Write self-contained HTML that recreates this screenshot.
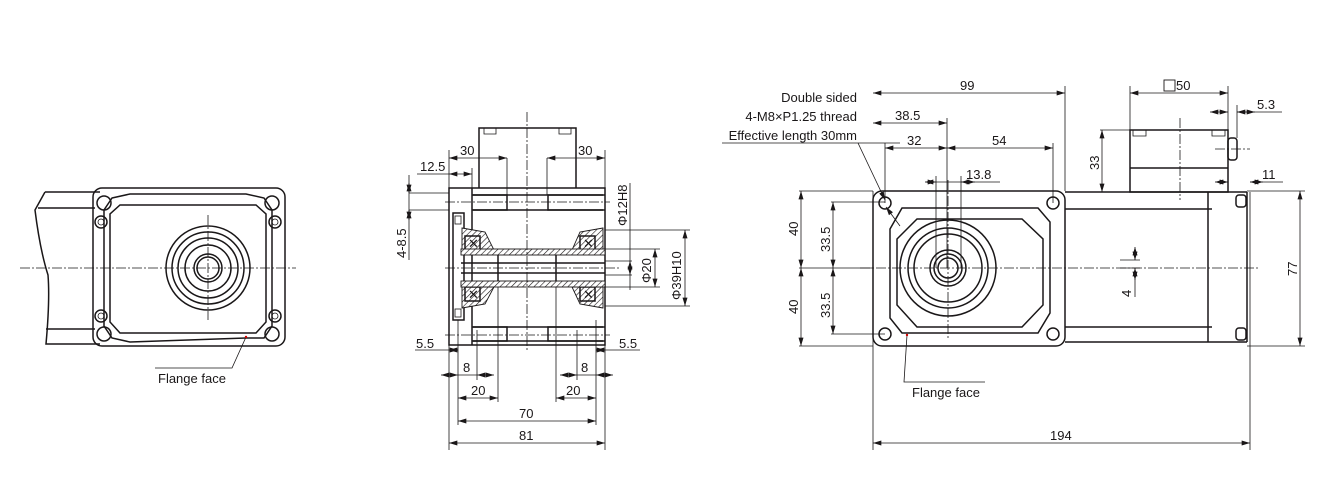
<!DOCTYPE html>
<html><head><meta charset="utf-8"><style>
body{margin:0;background:#fff}
svg{display:block}
text{font-family:"Liberation Sans Narrow","Liberation Sans",sans-serif;font-size:13px;fill:#1a1718}
.l{stroke:#1a1718;stroke-width:1.5;fill:none}
.t{stroke:#1a1718;stroke-width:0.8;fill:none}
.c{stroke:#1a1718;stroke-width:0.8;fill:none;stroke-dasharray:10 2 2 2}
.d{stroke:#1a1718;stroke-width:0.8;fill:none;marker-start:url(#a);marker-end:url(#a)}
.h{fill:url(#hatch);stroke:#1a1718;stroke-width:0.9}
</style></head><body>
<svg width="1325" height="485" viewBox="0 0 1325 485" xmlns="http://www.w3.org/2000/svg">
<defs>
<marker id="a" viewBox="0 0 10 6" refX="10" refY="3" markerWidth="9" markerHeight="5" orient="auto-start-reverse" markerUnits="userSpaceOnUse"><path d="M0,0L10,3L0,6z" fill="#1a1718"/></marker>
<pattern id="hatch" width="4" height="4" patternUnits="userSpaceOnUse" patternTransform="rotate(45)"><rect width="4" height="4" fill="#fff"/><line x1="0" y1="0" x2="0" y2="4" stroke="#1a1718" stroke-width="1.2"/></pattern>
</defs>

<!-- LEFT VIEW -->
<path class="l" d="M45,192 H100 M45,192 L35,210 Q40,250 48,275 Q50,300 46,344 H100 M38,208 H95 M46,329 H95"/>
<rect class="l" x="93" y="188" width="192" height="158" rx="9"/>
<path class="l" d="M112,198 L130,194 H246 L264,198 L272,210 V326 L264,338 H246 L130,342 L112,338 L104,326 V210 Z"/>
<path class="l" d="M120,205 H256 L266,214 V322 L256,333 H120 L110,322 V214 Z" stroke-width="1"/>
<circle class="l" cx="208" cy="268" r="42"/><circle class="l" cx="208" cy="268" r="36"/><circle class="l" cx="208" cy="268" r="30"/><circle class="l" cx="208" cy="268" r="23"/><circle class="l" cx="208" cy="268" r="14"/><circle class="l" cx="208" cy="268" r="11"/>
<g class="l"><circle cx="104" cy="203" r="7"/><circle cx="272" cy="203" r="7"/><circle cx="104" cy="334" r="7"/><circle cx="272" cy="334" r="7"/><circle cx="101" cy="222" r="6"/><circle cx="275" cy="222" r="6"/><circle cx="101" cy="316" r="6"/><circle cx="275" cy="316" r="6"/></g>
<g class="t"><circle cx="101" cy="222" r="3"/><circle cx="275" cy="222" r="3"/><circle cx="101" cy="316" r="3"/><circle cx="275" cy="316" r="3"/></g>
<line class="c" x1="20" y1="268" x2="296" y2="268"/><line class="c" x1="208" y1="215" x2="208" y2="320"/>
<path class="t" d="M246,337 L232,368 H155"/><circle cx="246" cy="337" r="1.2" fill="#c00"/>
<text x="158" y="383">Flange face</text>

<!-- MIDDLE VIEW -->
<path class="l" d="M479,188 V128 H576 V188"/>
<path class="t" d="M484,128 V134 H496 V128 M559,128 V134 H571 V128"/>
<rect class="l" x="449" y="188" width="156" height="157"/>
<line class="l" x1="472" y1="188" x2="472" y2="345"/>
<path class="l" d="M472,195 H605 M472,210 H605 M472,327 H605 M472,341 H605"/>
<path class="l" d="M473,195 H507 V210 H473 M603,195 H548 V210 H603 M473,327 H507 V341 H473 M603,327 H548 V341 H603" stroke-width="1"/>
<rect class="l" x="453" y="213" width="11" height="107"/>
<rect class="t" x="455" y="216" width="6" height="8"/><rect class="t" x="455" y="309" width="6" height="8"/>
<path class="h" d="M462,228 L485,232 L494,250 L462,250Z M603,228 L580,232 L572,250 L603,250Z M462,308 L485,304 L494,287 L462,287Z M603,308 L580,304 L572,287 L603,287Z"/>
<rect class="l" x="465" y="236" width="15" height="14" fill="#fff"/><rect class="l" x="580" y="236" width="15" height="14" fill="#fff"/>
<rect class="l" x="465" y="287" width="15" height="14" fill="#fff"/><rect class="l" x="580" y="287" width="15" height="14" fill="#fff"/>
<text x="468" y="248" font-size="11">✕</text><text x="583" y="248" font-size="11">✕</text><text x="468" y="299" font-size="11">✕</text><text x="583" y="299" font-size="11">✕</text>
<rect class="h" x="461" y="249" width="144" height="6"/><rect class="h" x="461" y="281" width="144" height="6"/>
<path class="l" d="M461,263 H605 M461,273 H605 M498,255 V281 M556,255 V281" stroke-width="1"/>
<line class="c" x1="527" y1="112" x2="527" y2="350"/><line class="c" x1="445" y1="268" x2="620" y2="268"/>
<line class="c" x1="445" y1="202" x2="610" y2="202"/><line class="c" x1="445" y1="335" x2="610" y2="335"/>
<!-- dims middle -->
<path class="t" d="M449,188 V150 M507,158 V195 M547,158 V195 M605,188 V150 M472,188 V168"/>
<line class="d" x1="449" y1="158" x2="507" y2="158"/><text x="460" y="155">30</text>
<line class="d" x1="547" y1="158" x2="605" y2="158"/><text x="578" y="155">30</text>
<line class="t" x1="417" y1="174" x2="449" y2="174"/><line class="d" x1="449" y1="174" x2="472" y2="174"/><text x="420" y="171">12.5</text>
<path class="t" d="M409,193 H449 M409,210 H449 M409,175 V260"/>
<line class="d" x1="409" y1="183" x2="409" y2="193"/><line class="d" x1="409" y1="220" x2="409" y2="210"/>
<text transform="translate(406,258) rotate(-90)">4-8.5</text>
<path class="t" d="M605,261 H632 M605,275 H632 M630,183 V290"/><line class="d" x1="630" y1="261" x2="630" y2="275"/>
<text transform="translate(627,226) rotate(-90)">Φ12H8</text>
<path class="t" d="M605,249 H660 M605,287 H660"/><line class="d" x1="655" y1="249" x2="655" y2="287"/>
<text transform="translate(651,283) rotate(-90)">Φ20</text>
<path class="t" d="M605,230 H690 M605,306 H690"/><line class="d" x1="685" y1="230" x2="685" y2="306"/>
<text transform="translate(681,300) rotate(-90)">Φ39H10</text>
<path class="t" d="M449,345 V450 M605,345 V450 M458,320 V425 M596,320 V425 M477,330 V380 M577,330 V380 M498,287 V402 M556,287 V402"/>
<line class="t" x1="415" y1="350" x2="449" y2="350"/><line class="d" x1="449" y1="350" x2="458" y2="350"/><text x="416" y="348">5.5</text>
<line class="t" x1="605" y1="350" x2="640" y2="350"/><line class="d" x1="605" y1="350" x2="596" y2="350"/><text x="619" y="348">5.5</text>
<line class="d" x1="441" y1="375" x2="458" y2="375"/><line class="d" x1="494" y1="375" x2="477" y2="375"/><line class="t" x1="458" y1="375" x2="477" y2="375"/><text x="463" y="372">8</text>
<line class="d" x1="560" y1="375" x2="577" y2="375"/><line class="d" x1="613" y1="375" x2="596" y2="375"/><line class="t" x1="577" y1="375" x2="596" y2="375"/><text x="581" y="372">8</text>
<line class="d" x1="458" y1="398" x2="498" y2="398"/><text x="471" y="395">20</text>
<line class="d" x1="556" y1="398" x2="596" y2="398"/><text x="566" y="395">20</text>
<line class="d" x1="458" y1="421" x2="596" y2="421"/><text x="519" y="418">70</text>
<line class="d" x1="449" y1="443" x2="605" y2="443"/><text x="519" y="440">81</text>

<!-- RIGHT VIEW -->
<rect class="l" x="873" y="191" width="192" height="155" rx="9"/>
<path class="l" d="M890,229 L902,208 H1038 L1050,222 V313 L1038,333 H902 L890,318 Z" stroke-width="1"/>
<path class="l" d="M897,239 L917,219 H1022 L1043,239 V305 L1022,327 H917 L897,305 Z"/>
<circle class="l" cx="948" cy="268" r="48"/><circle class="l" cx="948" cy="268" r="40"/><circle class="l" cx="948" cy="268" r="34"/><circle class="l" cx="948" cy="268" r="18"/><circle class="l" cx="948" cy="268" r="14"/><circle class="l" cx="948" cy="268" r="10"/>
<g class="l"><circle cx="885" cy="203" r="6"/><circle cx="1053" cy="203" r="6"/><circle cx="885" cy="334" r="6"/><circle cx="1053" cy="334" r="6"/></g>
<path class="l" d="M1065,192 H1247 M1065,342 H1247 M1065,209 H1212 M1065,327 H1212 M1208,192 V342 M1247,192 V342"/>
<rect class="l" x="1236" y="195" width="10" height="12" rx="3"/><rect class="l" x="1236" y="328" width="10" height="12" rx="3"/>
<rect class="l" x="1130" y="130" width="98" height="62"/><line class="l" x1="1130" y1="168" x2="1228" y2="168"/>
<rect class="l" x="1228" y="138" width="9" height="22" rx="3"/>
<path class="t" d="M1133,130 V136 H1146 V130 M1212,130 V136 H1225 V130"/>
<line class="c" x1="1180" y1="118" x2="1180" y2="200"/><line class="c" x1="1215" y1="149" x2="1250" y2="149"/>
<line class="c" x1="860" y1="268" x2="1260" y2="268"/><line class="c" x1="948" y1="180" x2="948" y2="340"/>
<!-- dims right -->
<path class="t" d="M873,191 V450 M1065,191 V86 M947,268 V118 M885,203 V143 M1053,203 V143 M936,268 V176 M961,268 V176 M1130,130 V86 M1228,130 V86 M1237,138 V105 M1250,192 V450"/>
<line class="d" x1="873" y1="93" x2="1065" y2="93"/><text x="960" y="90">99</text>
<line class="d" x1="873" y1="123" x2="947" y2="123"/><text x="895" y="120">38.5</text>
<line class="d" x1="885" y1="148" x2="947" y2="148"/><text x="907" y="145">32</text>
<line class="d" x1="947" y1="148" x2="1053" y2="148"/><text x="992" y="145">54</text>
<line class="d" x1="925" y1="182" x2="936" y2="182"/><line class="d" x1="975" y1="182" x2="961" y2="182"/><line class="t" x1="936" y1="182" x2="1000" y2="182"/><text x="966" y="179">13.8</text>
<line class="d" x1="1130" y1="93" x2="1228" y2="93"/><rect x="1164" y="80" width="11" height="11" fill="none" stroke="#1a1718" stroke-width="0.9"/><text x="1176" y="90">50</text>
<line class="d" x1="1210" y1="112" x2="1228" y2="112"/><line class="d" x1="1255" y1="112" x2="1237" y2="112"/><line class="t" x1="1237" y1="112" x2="1282" y2="112"/><text x="1257" y="109">5.3</text>
<path class="t" d="M1100,130 H1130 M1100,192 H1130"/><line class="d" x1="1102" y1="130" x2="1102" y2="192"/>
<text transform="translate(1099,170) rotate(-90)">33</text>
<line class="d" x1="1215" y1="182" x2="1228" y2="182"/><line class="d" x1="1263" y1="182" x2="1250" y2="182"/><line class="t" x1="1250" y1="182" x2="1283" y2="182"/><text x="1262" y="179">11</text>
<path class="t" d="M799,191 H873 M799,346 H873 M799,268 H873 M831,202 H885 M831,334 H885"/>
<line class="d" x1="801" y1="191" x2="801" y2="268"/><line class="d" x1="801" y1="346" x2="801" y2="268"/>
<text transform="translate(798,236) rotate(-90)">40</text><text transform="translate(798,314) rotate(-90)">40</text>
<line class="d" x1="833" y1="202" x2="833" y2="268"/><line class="d" x1="833" y1="334" x2="833" y2="268"/>
<text transform="translate(830,252) rotate(-90)">33.5</text><text transform="translate(830,318) rotate(-90)">33.5</text>
<path class="t" d="M1247,191 H1305 M1247,346 H1305"/><line class="d" x1="1300" y1="191" x2="1300" y2="346"/>
<text transform="translate(1297,276) rotate(-90)">77</text>
<path class="t" d="M1120,260 H1140 M1120,268 H1140"/><line class="d" x1="1135" y1="247" x2="1135" y2="260"/><line class="d" x1="1135" y1="280" x2="1135" y2="268"/><line class="t" x1="1135" y1="268" x2="1135" y2="297"/>
<text transform="translate(1131,297) rotate(-90)">4</text>
<line class="d" x1="873" y1="443" x2="1250" y2="443"/><text x="1050" y="440">194</text>
<text x="857" y="102" text-anchor="end">Double sided</text>
<text x="857" y="121" text-anchor="end">4-M8×P1.25 thread</text>
<text x="857" y="140" text-anchor="end">Effective length 30mm</text>
<path class="t" d="M722,143 H900"/><line class="t" x1="858" y1="143" x2="885" y2="200" marker-end="url(#a)"/>
<line class="t" x1="900" y1="226" x2="886" y2="207" marker-end="url(#a)"/>
<path class="t" d="M907,335 L904,382 H985"/><circle cx="907" cy="335" r="1.2" fill="#c00"/>
<text x="912" y="397">Flange face</text>
</svg>
</body></html>
